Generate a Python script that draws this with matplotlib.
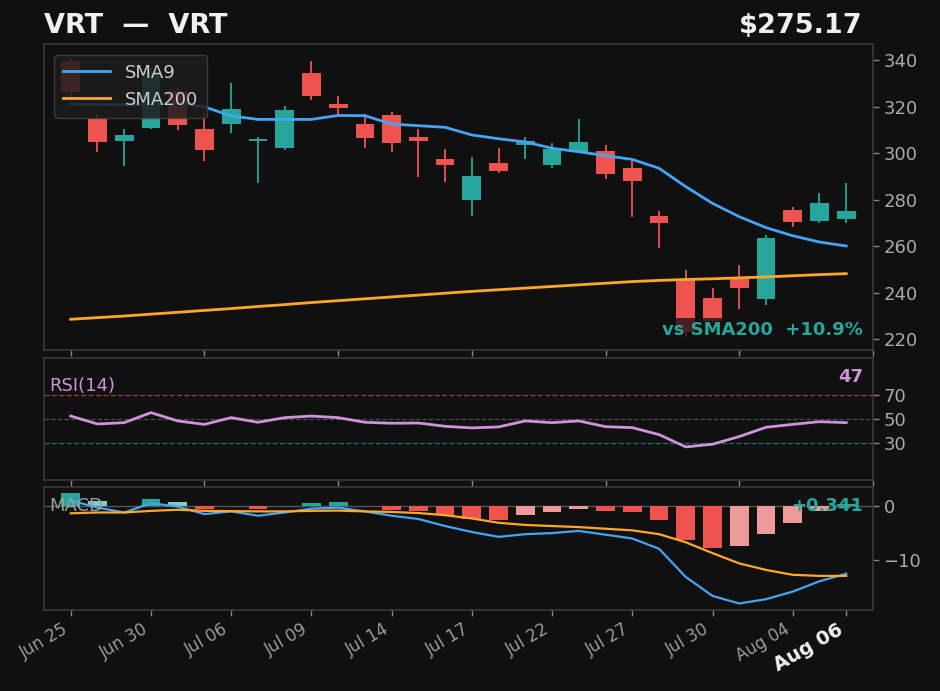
import matplotlib
matplotlib.use("Agg")
import matplotlib.pyplot as plt
import numpy as np

# ---------------- data ----------------
dates = ["Jun 25", "Jun 26", "Jun 29", "Jun 30", "Jul 01", "Jul 02", "Jul 06", "Jul 07",
         "Jul 08", "Jul 09", "Jul 10", "Jul 13", "Jul 14", "Jul 15", "Jul 16", "Jul 17",
         "Jul 20", "Jul 21", "Jul 22", "Jul 23", "Jul 24", "Jul 27", "Jul 28", "Jul 29",
         "Jul 30", "Jul 31", "Aug 03", "Aug 04", "Aug 05", "Aug 06"]

opens = [339.6, 314.6, 305.3, 310.9, 326.7, 310.4, 312.6, 305.3, 302.3, 334.4,
         321.2, 312.5, 316.4, 306.9, 297.5, 280.0, 295.7, 303.6, 295.0, 300.5,
         300.9, 293.6, 273.0, 245.8, 237.9, 246.6, 237.3, 275.6, 271.0, 271.8]
closes = [326.4, 304.9, 307.8, 335.0, 312.1, 301.5, 318.9, 306.0, 318.5, 324.7,
          319.5, 306.6, 304.5, 305.3, 295.0, 290.2, 292.4, 305.2, 301.8, 304.8,
          291.2, 288.1, 270.1, 223.3, 227.9, 242.2, 263.5, 270.5, 278.6, 275.17]
highs = [340.7, 316.8, 310.2, 336.5, 328.1, 317.8, 330.3, 307.1, 320.4, 339.7,
         324.7, 316.8, 317.8, 310.2, 301.9, 298.2, 302.3, 307.1, 304.5, 314.5,
         303.3, 296.7, 275.3, 249.8, 241.9, 251.9, 264.8, 277.0, 283.0, 287.0]
lows = [322.8, 300.3, 294.5, 310.2, 309.9, 296.6, 308.6, 287.0, 301.3, 322.8,
        316.4, 302.3, 300.5, 289.9, 287.6, 273.1, 291.6, 297.5, 293.7, 300.5,
        289.0, 272.4, 259.1, 221.1, 227.0, 233.0, 234.7, 268.4, 270.1, 270.1]

sma9 = [321.1, 320.9, 320.8, 320.7, 321.5, 319.9, 316.0, 314.5, 314.5, 314.5,
        316.2, 316.1, 312.5, 311.8, 311.1, 307.8, 306.2, 304.8, 302.1, 300.6,
        298.9, 297.3, 293.5, 285.6, 278.4, 272.7, 268.0, 264.5, 261.8, 260.1]
sma200 = [228.6, 229.3, 230.0, 230.8, 231.6, 232.4, 233.2, 234.1, 234.9, 235.8,
          236.6, 237.4, 238.2, 239.0, 239.8, 240.6, 241.3, 242.0, 242.7, 243.4,
          244.1, 244.8, 245.3, 245.7, 246.0, 246.4, 246.8, 247.3, 247.8, 248.2]

rsi = [52.4, 45.9, 47.0, 55.2, 48.4, 45.6, 51.1, 47.3, 51.1, 52.4,
       51.1, 47.3, 46.5, 46.7, 44.0, 42.7, 43.5, 48.4, 47.0, 48.4,
       43.7, 42.9, 37.2, 27.1, 29.3, 35.6, 43.2, 45.6, 47.8, 47.0]

macd = [1.0, -0.3, -1.2, 0.5, -0.1, -1.5, -1.0, -1.8, -1.2, -0.5,
        -0.3, -1.0, -1.8, -2.4, -3.7, -4.8, -5.7, -5.2, -5.0, -4.6,
        -5.3, -6.0, -7.9, -13.1, -16.6, -18.0, -17.2, -15.8, -13.9, -12.5]
signal = [-1.35, -1.2, -1.2, -0.9, -0.7, -0.9, -0.95, -1.0, -1.0, -0.9,
          -0.85, -1.0, -1.1, -1.3, -1.7, -2.3, -3.1, -3.5, -3.7, -3.9,
          -4.2, -4.5, -5.2, -6.7, -8.7, -10.6, -11.8, -12.7, -12.9, -12.9]
hist = [2.4, 0.9, 0.02, 1.3, 0.7, -0.5, -0.05, -0.5, -0.05, 0.5,
        0.7, -0.05, -0.7, -0.9, -1.7, -2.4, -2.5, -1.6, -1.1, -0.5,
        -0.9, -1.2, -2.5, -6.2, -7.7, -7.3, -5.1, -3.1, -1.0, 0.341]

tick_idx = [0, 3, 6, 9, 12, 15, 18, 21, 24, 27, 29]

# ---------------- style ----------------
BG = "#101010"
UP = "#26a69a"
DOWN = "#ef5350"
SPINE = "#3a3a3a"
TXT = "#aaaaaa"

fig = plt.figure(figsize=(9.4, 6.91), dpi=100, facecolor=BG)
ax1 = fig.add_axes([0.0468, 0.4935, 0.8819, 0.4428], facecolor=BG)
ax2 = fig.add_axes([0.0468, 0.3054, 0.8819, 0.1765], facecolor=BG)
ax3 = fig.add_axes([0.0468, 0.1172, 0.8819, 0.1780], facecolor=BG)

x = np.arange(len(dates))
for ax in (ax1, ax2, ax3):
    for s in ax.spines.values():
        s.set_color(SPINE)
        s.set_linewidth(1.2)
    ax.yaxis.tick_right()
    ax.tick_params(colors="#888888", labelcolor=TXT, labelsize=13, length=4, width=1)
    ax.set_xlim(-1, 30)

# ---------------- price panel ----------------
o = np.array(opens); c = np.array(closes)
cols = [UP if cc >= oo else DOWN for oo, cc in zip(o, c)]
ax1.vlines(x, lows, highs, colors=cols, linewidth=1.3, zorder=2)
body_bottom = np.minimum(o, c)
body_h = np.maximum(np.abs(c - o), 0.6)
ax1.bar(x, body_h, bottom=body_bottom, width=0.7, color=cols, zorder=3)
ax1.plot(x, sma9, color="#42a5f5", lw=2, label="SMA9", zorder=4)
ax1.plot(x, sma200, color="#ffa726", lw=2, label="SMA200", zorder=4)
ax1.set_ylim(215.4, 346.9)
ax1.set_yticks([220, 240, 260, 280, 300, 320, 340])
ax1.set_xticks([0, 5, 10, 15, 20, 25, 30])
ax1.tick_params(axis="x", labelbottom=False)
leg = ax1.legend(loc="upper left", fontsize=13, facecolor="#1c1c1c", edgecolor="#444444",
                 labelcolor="#cccccc", framealpha=0.85, borderpad=0.5, handlelength=2.6,
                 bbox_to_anchor=(0.0015, 0.995))
leg.set_zorder(6)
pct = (closes[-1] / sma200[-1] - 1) * 100
ax1.text(0.988, 0.066, f"vs SMA200  +{pct:.1f}%", transform=ax1.transAxes, ha="right",
         va="center", color=UP, fontsize=13, fontweight="bold", zorder=7,
         bbox=dict(facecolor=BG, edgecolor="none", alpha=0.75, pad=2))

fig.text(0.0468, 0.963, "VRT  —  VRT", color="#f0f0f0", fontsize=19.5, fontweight="bold",
         ha="left", va="center")
fig.text(0.918, 0.963, f"${closes[-1]:.2f}", color="#f0f0f0", fontsize=19.5, fontweight="bold",
         ha="right", va="center")

# ---------------- RSI panel ----------------
ax2.axhline(70, color=DOWN, lw=1, ls="--", alpha=0.6)
ax2.axhline(50, color="#888888", lw=0.9, ls="--", alpha=0.5)
ax2.axhline(30, color=UP, lw=1, ls="--", alpha=0.6)
ax2.plot(x, rsi, color="#ce93d8", lw=2)
ax2.set_ylim(0, 100)
ax2.set_yticks([30, 50, 70])
ax2.set_xticks([0, 5, 10, 15, 20, 25, 30])
ax2.tick_params(axis="x", labelbottom=False)
ax2.text(0.006, 0.77, "RSI(14)", transform=ax2.transAxes, color="#ce93d8", fontsize=13,
         ha="left", va="center")
ax2.text(0.988, 0.845, f"{rsi[-1]:.0f}", transform=ax2.transAxes, color="#ce93d8",
         fontsize=13, fontweight="bold", ha="right", va="center")

# ---------------- MACD panel ----------------
hcols = []
for i, h in enumerate(hist):
    prev = hist[i - 1] if i > 0 else 0
    if h >= 0:
        hcols.append(UP if h >= prev else "#80cbc4")
    else:
        hcols.append(DOWN if h < prev else "#ef9a9a")
ax3.axhline(0, color="#555555", lw=1)
ax3.bar(x, hist, width=0.7, color=hcols, zorder=2)
ax3.plot(x, macd, color="#42a5f5", lw=1.6, zorder=3)
ax3.plot(x, signal, color="#ffa726", lw=1.6, zorder=3)
ax3.set_ylim(-19.2, 3.5)
ax3.set_yticks([-10, 0])
ax3.text(0.006, 0.845, "MACD", transform=ax3.transAxes, color="#9e9e9e", fontsize=13,
         ha="left", va="center")
ax3.text(0.988, 0.845, f"+{hist[-1]:.3f}", transform=ax3.transAxes, color=UP,
         fontsize=13, fontweight="bold", ha="right", va="center")
ax3.set_xticks(tick_idx)
ax3.set_xticklabels([dates[i] for i in tick_idx], rotation=30, ha="right",
                    fontsize=12, color="#9a9a9a")
lab = ax3.get_xticklabels()[-1]
lab.set_fontweight("bold")
lab.set_color("#f0f0f0")
lab.set_fontsize(14)

fig.savefig("out.png", dpi=100, facecolor=BG)
